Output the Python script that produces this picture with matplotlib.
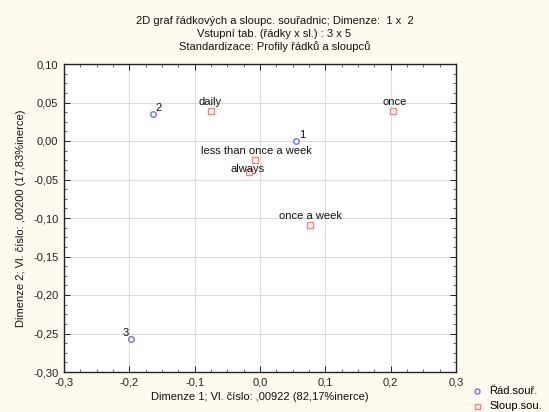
import matplotlib
matplotlib.use("Agg")
import matplotlib.pyplot as plt
from matplotlib.ticker import MultipleLocator, FuncFormatter

plt.rcParams['font.family'] = ['Liberation Sans', 'DejaVu Sans']

# Row coordinates (dimension 1, dimension 2)
row_labels = ["1", "2", "3"]
row_x = [0.055, -0.164, -0.198]
row_y = [0.000, 0.035, -0.257]

# Column coordinates
col_labels = ["daily", "once", "less than once a week", "always", "once a week"]
col_x = [-0.075, 0.204, -0.008, -0.017, 0.077]
col_y = [0.039, 0.039, -0.025, -0.040, -0.109]

# label offsets (points) and alignment per point
row_offsets = [(2, 1, 'left'), (2, 1, 'left'), (-1, 1, 'right')]
col_offsets = [(-1, 3, 'center'), (1, 3, 'center'), (1, 3, 'center'), (-1, -1.5, 'center'), (0, 3, 'center')]

FS = 8
bg = '#FFFAF0'
fig = plt.figure(figsize=(5.49, 4.12), dpi=100, facecolor=bg)
ax = fig.add_axes([64 / 549, 1 - 372 / 412, (456 - 64) / 549, (372 - 64) / 412])
ax.set_facecolor('white')

ax.set_xlim(-0.3, 0.3)
ax.set_ylim(-0.30, 0.10)

ax.xaxis.set_major_locator(MultipleLocator(0.1))
ax.xaxis.set_minor_locator(MultipleLocator(0.025))
ax.yaxis.set_major_locator(MultipleLocator(0.05))
ax.yaxis.set_minor_locator(MultipleLocator(0.0125))

ax.xaxis.set_major_formatter(FuncFormatter(lambda v, p: f"{v:.1f}".replace('.', ',').replace('-0,0', '0,0')))
ax.yaxis.set_major_formatter(FuncFormatter(lambda v, p: f"{v:.2f}".replace('.', ',').replace('-0,00', '0,00')))

ax.grid(True, which='major', color='#DCDCDC', linewidth=0.8)
ax.set_axisbelow(True)
ax.tick_params(which='both', direction='in', top=True, right=True, labelsize=FS, colors='#222222', pad=4)
ax.tick_params(which='major', length=4, width=0.7)
ax.tick_params(which='minor', length=2, width=0.6, colors='#555555')
for s in ax.spines.values():
    s.set_color('#222222')
    s.set_linewidth(1.0)

ax.scatter(row_x, row_y, s=16, marker='o', facecolors='white', edgecolors='#6F6FFF',
           linewidths=1.0, zorder=3, label='Řád.souř.')
ax.scatter(col_x, col_y, s=16, marker='s', facecolors='white', edgecolors='#FF7F7F',
           linewidths=1.0, zorder=3, label='Sloup.sou.')

for lab, x, y, (dx, dy, ha) in zip(row_labels, row_x, row_y, row_offsets):
    ax.annotate(lab, (x, y), xytext=(dx, dy), textcoords='offset points',
                ha=ha, va='bottom', fontsize=FS, color='#111111', zorder=4)
for lab, x, y, (dx, dy, ha) in zip(col_labels, col_x, col_y, col_offsets):
    ax.annotate(lab, (x, y), xytext=(dx, dy), textcoords='offset points',
                ha=ha, va='bottom', fontsize=FS, color='#111111', zorder=4)

ax.set_xlabel("Dimenze 1; Vl. číslo: ,00922 (82,17%inerce)", fontsize=FS, labelpad=3, color='#111111')
ax.set_ylabel("Dimenze 2; Vl. číslo: ,00200 (17,83%inerce)", fontsize=FS, labelpad=5, color='#111111')

fig.text(0.5, 1 - 21 / 412, "2D graf řádkových a sloupc. souřadnic; Dimenze:  1 x  2",
         ha='center', va='center', fontsize=FS, color='#111111')
fig.text(0.5, 1 - 34 / 412, "Vstupní tab. (řádky x sl.) : 3 x 5",
         ha='center', va='center', fontsize=FS, color='#111111')
fig.text(0.5, 1 - 47 / 412, "Standardizace: Profily řádků a sloupců",
         ha='center', va='center', fontsize=FS, color='#111111')

leg = fig.legend(loc='lower left', bbox_to_anchor=(466 / 549, -3 / 412), frameon=False,
                 fontsize=FS, handletextpad=0.5, labelspacing=0.45, markerscale=0.9,
                 handlelength=1.2, borderaxespad=0.0)

fig.savefig("out.png", dpi=100, facecolor=bg)
